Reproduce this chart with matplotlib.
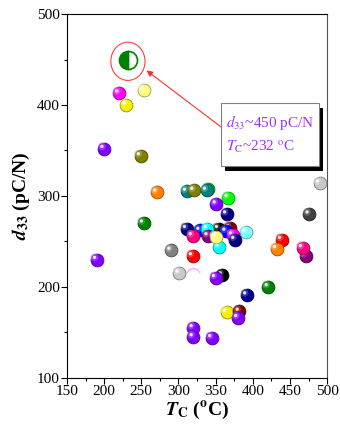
import matplotlib
matplotlib.use("Agg")
import matplotlib.pyplot as plt
from matplotlib.patches import Ellipse, Rectangle
from matplotlib.path import Path
from matplotlib.colors import to_rgb
import matplotlib.transforms as mtransforms

plt.rcParams['font.family'] = 'Liberation Serif'
plt.rcParams['mathtext.fontset'] = 'stix'

# Curie temperature (deg C), d33 (pC/N), colour, drawn back to front
tc = [220, 230, 254, 200, 249, 271, 340, 311, 321, 338, 367, 351, 365, 253,
      190, 290, 319, 301, 359, 350, 392, 421, 365, 382, 380, 320, 320, 345,
      369, 354, 311, 329, 339, 364, 391, 319, 340, 373, 376, 355, 350,
      490, 476, 439, 432, 471, 467]
d33 = [413, 400, 416, 352, 344, 304, 308, 305, 306, 306, 298, 291, 280, 270,
       230, 240, 234, 215, 213, 210, 191, 200, 172, 173, 166, 155, 145, 144,
       265, 264, 264, 262, 264, 261, 260, 256, 256, 257, 252, 244, 255,
       314, 280, 252, 242, 234, 243]
colors = ['#ff00ff', '#f5f000', '#ffff80', '#8000ff', '#808000', '#ff8000',
          '#00d000', '#008080', '#808000', '#008080', '#00ff00', '#8000ff',
          '#000080', '#008000', '#8000ff', '#808080', '#ff0000', '#c8c8c8',
          '#000000', '#8000ff', '#000090', '#008000', '#f5f000', '#800000',
          '#8000ff', '#8000ff', '#8000ff', '#8000ff',
          '#800000', '#000000', '#000080', '#0000ff', '#00ffff', '#0000ff',
          '#80ffff', '#ff0080', '#800080', '#ff00ff', '#000080', '#00ffff',
          '#ffff80',
          '#c8c8c8', '#404040', '#ff0000', '#ff8000', '#800080', '#ff0080']

# highlighted composition
best_tc = 232
best_d33 = 449
# faint pink open mark
arc_tc = 320
arc_d33 = 213

fig = plt.figure(figsize=(3.4, 4.25), dpi=100)
ax = fig.add_axes([0.197, 0.111, 0.765, 0.856])

hl = mtransforms.offset_copy(ax.transData, fig=fig, x=-1.6, y=1.6, units='points')
for i, (x, y, c) in enumerate(zip(tc, d33, colors)):
    r, g, b = to_rgb(c)
    dark = (r * 0.6, g * 0.6, b * 0.6)
    light = (r + (1 - r) * 0.35, g + (1 - g) * 0.35, b + (1 - b) * 0.35)
    ax.scatter([x], [y], s=85, color=c, edgecolors=dark, linewidths=0.6, zorder=3 + i * 0.01)
    ax.scatter([x], [y], s=30, color=light, edgecolors='none', alpha=0.6,
               transform=hl, zorder=3 + i * 0.01 + 0.003)
    ax.scatter([x], [y], s=6, color='white', edgecolors='none', alpha=0.85,
               transform=hl, zorder=3 + i * 0.01 + 0.006)

ax.plot([arc_tc], [arc_d33], marker=Path.arc(20, 160), ms=10, mfc='none',
        mec='#ffa8ff', mew=1.0, ls='none', zorder=2.9)

ax.plot([best_tc], [best_d33], marker='o', ms=13, fillstyle='left',
        color='#008000', markerfacecoloralt='white', mec='#008000', mew=1.2,
        ls='none', zorder=5)
ax.add_patch(Ellipse((best_tc, best_d33 - 1), 46, 42, fill=False,
                     ec='#ff4040', lw=0.8, zorder=5))
ax.annotate('', xy=(257, 438), xytext=(357, 376),
            arrowprops=dict(arrowstyle='-|>', color='#ff3030', lw=0.8,
                            mutation_scale=9, shrinkA=0, shrinkB=0), zorder=6)

# annotation box with drop shadow
ax.add_patch(Rectangle((362.5, 327.5), 132, 69, fc='black', ec='none', zorder=6))
ax.add_patch(Rectangle((357.3, 333), 132, 69, fc='white', ec='#808080', lw=0.8, zorder=7))
ax.text(364, 381, r'$d_{33}$~450 pC/N', color='#9933ff', fontsize=11,
        va='center', ha='left', zorder=8)
ax.text(364, 354, r'$T_{\mathrm{C}}$~232 $^{\mathrm{o}}$C', color='#9933ff', fontsize=11,
        va='center', ha='left', zorder=8)

ax.set_xlim(150, 500)
ax.set_ylim(100, 500)
ax.set_xticks([150, 200, 250, 300, 350, 400, 450, 500])
ax.set_yticks([100, 200, 300, 400, 500])
ax.set_xticks([175, 225, 275, 325, 375, 425, 475], minor=True)
ax.set_yticks([150, 250, 350, 450], minor=True)
ax.tick_params(axis='both', which='major', direction='out', length=4, width=0.8,
               labelsize=11, top=False, right=False, pad=1)
ax.tick_params(axis='both', which='minor', direction='out', length=2, width=0.8,
               top=False, right=False)
for s in ax.spines.values():
    s.set_linewidth(0.8)
ax.spines['right'].set_color('#555555')

ax.set_xlabel(r'$\mathbfit{T}_{\mathbf{C}}$ ($^{\mathbf{o}}$C)', fontsize=14,
              fontweight='bold', labelpad=1)
ax.set_ylabel(r'$\mathbfit{d}_{\mathbf{33}}$ (pC/N)', fontsize=14,
              fontweight='bold', labelpad=4)

fig.savefig('out.png', dpi=100)
